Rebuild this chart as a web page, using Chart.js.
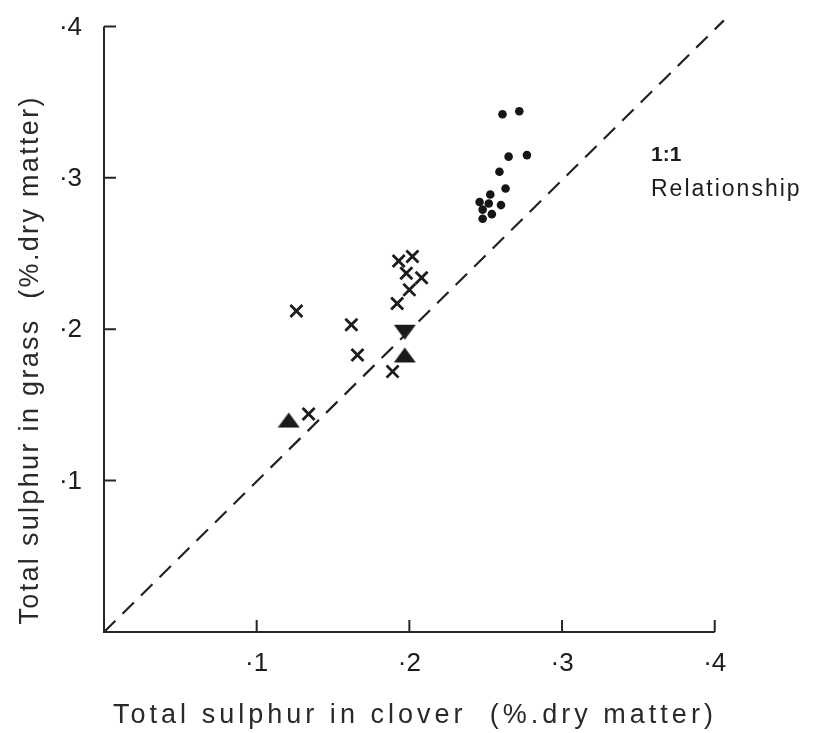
<!DOCTYPE html>
<html>
<head>
<meta charset="utf-8">
<script src="https://cdn.jsdelivr.net/npm/chart.js@4/dist/chart.umd.min.js"></script>
<style>
  html, body { margin: 0; padding: 0; background: #fff; }
  #wrap { width: 820px; height: 733px; }
</style>
</head>
<body>
<div id="wrap"><canvas id="sulphur"></canvas></div>
<script>
// clover S (x) vs grass S (y), % dry matter
var dotX = [0.261, 0.272, 0.265, 0.277, 0.259, 0.263, 0.253, 0.246, 0.252, 0.260, 0.248, 0.254, 0.248];
var dotY = [0.342, 0.344, 0.314, 0.315, 0.304, 0.293, 0.289, 0.284, 0.283, 0.282, 0.279, 0.276, 0.273];

var crossX = [0.193, 0.202, 0.198, 0.208, 0.200, 0.192, 0.126, 0.162, 0.166, 0.189, 0.134];
var crossY = [0.245, 0.248, 0.237, 0.234, 0.226, 0.217, 0.212, 0.203, 0.183, 0.172, 0.144];

var triUpX = [0.121, 0.197];
var triUpY = [0.140, 0.183];
var triDownX = [0.197];
var triDownY = [0.198];

var lineX = [0, 0.406];
var lineY = [0, 0.404];

var tickValues = [0.1, 0.2, 0.3, 0.4];
var tickLabels = ['·1', '·2', '·3', '·4'];

var xTitle = 'Total sulphur in clover  (%.dry matter)';
var yTitle = 'Total sulphur in grass  (%.dry matter)';

function pts(xs, ys) {
	return xs.map(function (x, i) { return {x: x, y: ys[i]}; });
}

// flat filled triangle used as a point image
function triangleImage(up) {
	var c = document.createElement('canvas');
	c.width = 24; c.height = 17;
	var g = c.getContext('2d');
	g.fillStyle = '#1a1a1a';
	g.beginPath();
	if (up) {
		g.moveTo(12, 1); g.lineTo(23, 16); g.lineTo(1, 16);
	} else {
		g.moveTo(1, 1); g.lineTo(23, 1); g.lineTo(12, 16);
	}
	g.closePath();
	g.fill();
	return c;
}

var FONT = '"Liberation Sans", Arial, Helvetica, sans-serif';

function spreadText(ctx, text, cx, cy, width) {
	ctx.letterSpacing = '0px';
	var w = ctx.measureText(text).width;
	var sp = (width - w) / (text.length - 1);
	ctx.letterSpacing = sp.toFixed(2) + 'px';
	ctx.textAlign = 'left';
	ctx.fillText(text, cx - width / 2, cy);
	ctx.letterSpacing = '0px';
}

var axesPlugin = {
	id: 'axesPlugin',
	afterDraw: function (chart) {
		var ctx = chart.ctx;
		var xs = chart.scales.x, ys = chart.scales.y;
		var x0 = xs.getPixelForValue(0), y0 = ys.getPixelForValue(0);
		var xEnd = xs.getPixelForValue(0.4), yEnd = ys.getPixelForValue(0.4);
		ctx.save();
		ctx.strokeStyle = '#262626';
		ctx.lineWidth = 2;
		ctx.beginPath();
		ctx.moveTo(x0, yEnd);
		ctx.lineTo(x0, y0);
		ctx.lineTo(xEnd, y0);
		tickValues.forEach(function (v) {
			var px = xs.getPixelForValue(v), py = ys.getPixelForValue(v);
			ctx.moveTo(px, y0); ctx.lineTo(px, y0 - 12);
			ctx.moveTo(x0, py); ctx.lineTo(x0 + 12, py);
		});
		ctx.stroke();

		ctx.fillStyle = '#1c1c1c';
		ctx.font = '26px ' + FONT;
		ctx.textBaseline = 'middle';
		tickValues.forEach(function (v, i) {
			ctx.textAlign = 'center';
			ctx.fillText(tickLabels[i], xs.getPixelForValue(v), y0 + 32);
			ctx.textAlign = 'right';
			ctx.fillText(tickLabels[i], x0 - 22, ys.getPixelForValue(v) + 1);
		});

		ctx.fillStyle = '#2a2a2a';
		ctx.font = '27px ' + FONT;
		spreadText(ctx, xTitle, 413, 716, 600);
		ctx.save();
		ctx.translate(31, 361);
		ctx.rotate(-Math.PI / 2);
		spreadText(ctx, yTitle, 0, 0, 527);
		ctx.restore();

		ctx.fillStyle = '#1c1c1c';
		ctx.textAlign = 'left';
		ctx.font = 'bold 21px ' + FONT;
		ctx.fillText('1:1', 651, 155);
		ctx.font = '23px ' + FONT;
		ctx.letterSpacing = '2px';
		ctx.fillText('Relationship', 651, 190);
		ctx.restore();
	}
};

var config = {
	type: 'scatter',
	data: {
		datasets: [
			{
				type: 'line',
				data: pts(lineX, lineY),
				borderColor: '#222',
				borderWidth: 2.2,
				borderDash: [16, 10],
				pointRadius: 0,
				fill: false
			},
			{
				data: pts(dotX, dotY),
				pointStyle: 'circle',
				pointRadius: 4.3,
				backgroundColor: '#151515',
				borderColor: '#151515',
				borderWidth: 0
			},
			{
				data: pts(crossX, crossY),
				pointStyle: 'crossRot',
				pointRadius: 8.5,
				borderColor: '#1c1c1c',
				borderWidth: 2.8
			},
			{
				data: pts(triUpX, triUpY),
				pointStyle: triangleImage(true)
			},
			{
				data: pts(triDownX, triDownY),
				pointStyle: triangleImage(false)
			}
		]
	},
	options: {
		responsive: true,
		maintainAspectRatio: false,
		animation: false,
		clip: false,
		layout: { padding: { left: 104, right: 90, top: 2, bottom: 101 } },
		plugins: { legend: { display: false }, tooltip: { enabled: false } },
		scales: {
			x: { type: 'linear', min: 0, max: 0.41, display: false },
			y: { type: 'linear', min: 0, max: 0.41, display: false }
		}
	},
	plugins: [axesPlugin]
};

new Chart(document.getElementById('sulphur'), config);
</script>
</body>
</html>
